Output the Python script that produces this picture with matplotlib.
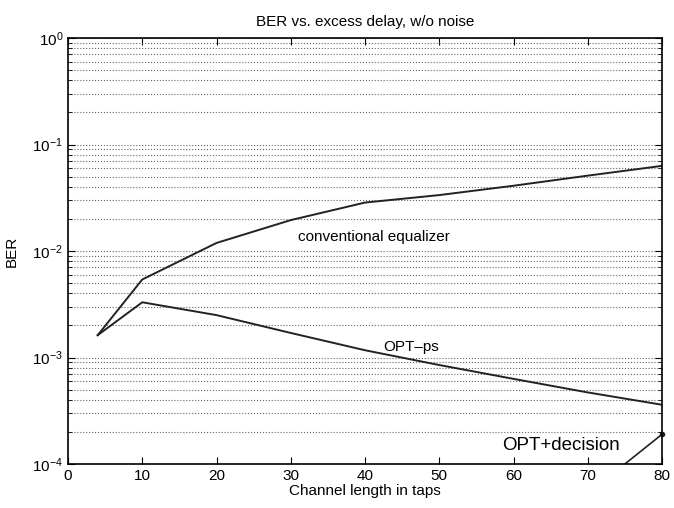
import matplotlib
matplotlib.use("Agg")
import matplotlib.pyplot as plt
from matplotlib.ticker import LogLocator, NullFormatter

plt.rcParams['font.family'] = ['Liberation Sans', 'DejaVu Sans']
plt.rcParams['mathtext.fontset'] = 'custom'
plt.rcParams['mathtext.rm'] = 'Liberation Sans'

conv_x = [4, 10, 20, 30, 40, 50, 60, 70, 80]
conv_y = [1.62e-3, 5.4e-3, 1.19e-2, 1.95e-2, 2.85e-2, 3.35e-2, 4.1e-2, 5.1e-2, 6.3e-2]
optps_x = [4, 10, 20, 30, 40, 50, 60, 70, 80]
optps_y = [1.62e-3, 3.3e-3, 2.5e-3, 1.7e-3, 1.17e-3, 8.5e-4, 6.3e-4, 4.7e-4, 3.6e-4]
optdec_x = [75, 80]
optdec_y = [1.0e-4, 1.9e-4]

fig = plt.figure(figsize=(6.74, 5.08), dpi=100)
ax = fig.add_axes([68/674, 1-464/508, (662-68)/674, (464-38)/508])

ax.semilogy(conv_x, conv_y, color='#222222', lw=1.4)
ax.semilogy(optps_x, optps_y, color='#222222', lw=1.4)
ax.semilogy(optdec_x, optdec_y, color='#222222', lw=1.2, clip_on=True)
ax.plot([optdec_x[-1]], [optdec_y[-1]], 'o', color='#222222', ms=3, clip_on=False)

ax.set_xlim(0, 80)
ax.set_ylim(1e-4, 1)
ax.set_xticks(range(0, 81, 10))
ax.yaxis.set_major_locator(LogLocator(base=10, numticks=10))
ax.yaxis.set_minor_locator(LogLocator(base=10, subs=range(2, 10), numticks=10))
ax.yaxis.set_minor_formatter(NullFormatter())
ax.tick_params(which='both', direction='in', top=True, right=True, labelsize=11)
ax.tick_params(which='major', length=5)
ax.tick_params(which='minor', length=3)
ax.grid(True, which='both', axis='y', linestyle=':', color='#666666', lw=0.8)
for s in ax.spines.values():
    s.set_linewidth(1.2)

ax.text(31.0, 1.35e-2, 'conventional equalizer', fontsize=11, va='center')
ax.text(42.5, 1.25e-3, 'OPT\u2013ps', fontsize=11, va='center')
ax.text(58.5, 1.5e-4, 'OPT+decision', fontsize=13.5, va='center')

ax.set_title('BER vs. excess delay, w/o noise', fontsize=11, pad=9)
ax.set_xlabel('Channel length in taps', fontsize=11, labelpad=1)
ax.set_ylabel('BER', fontsize=11, labelpad=10)

fig.savefig('out.png', dpi=100)
